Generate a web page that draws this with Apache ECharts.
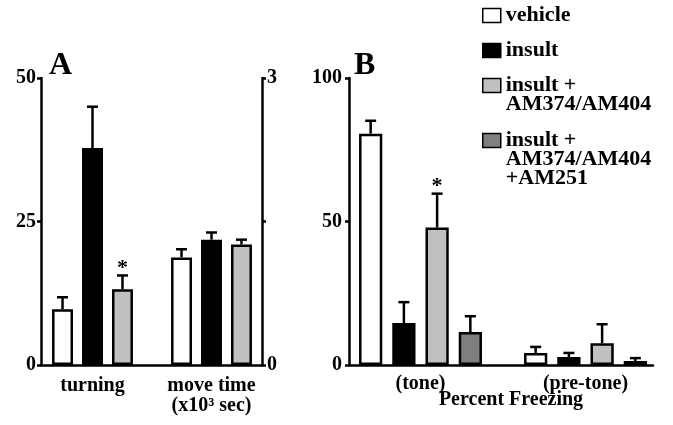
<!DOCTYPE html>
<html><head><meta charset="utf-8">
<script src="https://cdn.jsdelivr.net/npm/echarts@6/dist/echarts.min.js"></script>
<style>html,body{margin:0;padding:0;background:#fff}#c{width:673px;height:425px}</style>
</head><body><div id="c"></div>
<script>
// ---- data ----
const groupNames = ['vehicle', 'insult', 'insult + AM374/AM404', 'insult + AM374/AM404 + AM251'];
const legendLabels = ['vehicle', 'insult', 'insult +\nAM374/AM404', 'insult +\nAM374/AM404\n+AM251'];
const groupColors = ['#ffffff', '#000000', '#c0c0c0', '#7f7f7f'];

const categoriesA = ['turning', 'move time\n(x10³ sec)'];
const turningMean = [9.7, 37.8, 13.2];
const turningErr = [2.1, 7.2, 2.4];
const turningSig = [0, 0, 1];
const moveTimeMean = [1.125, 1.31, 1.26];
const moveTimeErr = [0.085, 0.075, 0.05];
const moveTimeSig = [0, 0, 0];

const categoriesB = ['(tone)', '(pre-tone)'];
const toneMean = [80.6, 14.6, 47.9, 11.5];
const toneErr = [4.5, 7.3, 11.8, 5.5];
const toneSig = [0, 0, 1, 0];
const preToneMean = [4.2, 2.8, 7.6, 1.4];
const preToneErr = [2.1, 1.4, 6.6, 1.0];
const preToneSig = [0, 0, 0, 0];

const axisTicksA = { min: 0, max: 50, interval: 25 };
const axisTicksARight = { min: 0, max: 3, interval: 1.5, hidden: [1.5] };
const axisTicksB = { min: 0, max: 100, interval: 50 };

// ---- style ----
const FONT = '"Liberation Serif", "Times New Roman", serif';
const LW = 2.5;
const catGapA = 0.32, barGapA = 0.43;
const catGapB = 0.255, barGapB = 0.43;

function barSeries(i, xi, yi, data, catGap, barGap) {
  return {
    type: 'bar', name: groupNames[i], xAxisIndex: xi, yAxisIndex: yi, data: data,
    barGap: (barGap * 100) + '%', barCategoryGap: (catGap * 100) + '%',
    itemStyle: { color: groupColors[i], borderColor: '#000', borderWidth: LW },
    silent: true, z: 2
  };
}

function errSeries(xi, yi, cat, means, errs, sigs, catGap, barGap) {
  const n = means.length;
  return {
    type: 'custom', xAxisIndex: xi, yAxisIndex: yi, z: 10, silent: true,
    encode: { x: 0, y: 2 },
    data: means.map((m, i) => [cat, i, m, errs[i], sigs[i]]),
    renderItem: function (params, api) {
      const c = api.value(0), i = api.value(1), m = api.value(2), e = api.value(3), s = api.value(4);
      const band = api.size([1, 0])[0];
      const avail = band * (1 - catGap);
      const bw = avail / (n + (n - 1) * barGap);
      const x = api.coord([c, 0])[0] - avail / 2 + i * bw * (1 + barGap) + bw / 2;
      const y0 = api.coord([c, m])[1];
      const y1 = api.coord([c, m + e])[1];
      const ch = [
        { type: 'line', shape: { x1: x, y1: y0, x2: x, y2: y1 }, style: { stroke: '#000', lineWidth: LW } },
        { type: 'line', shape: { x1: x - 5.5, y1: y1, x2: x + 5.5, y2: y1 }, style: { stroke: '#000', lineWidth: LW } }
      ];
      if (s) ch.push({ type: 'text', style: { text: '*', x: x, y: y1 - 7, align: 'center', verticalAlign: 'middle', font: 'bold 22px ' + FONT, fill: '#000' } });
      return { type: 'group', children: ch };
    }
  };
}

const labelStyle = { fontFamily: FONT, fontWeight: 'bold', fontSize: 20, color: '#000' };
const lineStyle = { color: '#000', width: LW };

function yAxisVisible(gi, pos, t, margin) {
  return {
    type: 'value', gridIndex: gi, position: pos, min: t.min, max: t.max, interval: t.interval,
    axisLine: { show: true, lineStyle: lineStyle },
    axisTick: { show: true, length: 4, lineStyle: lineStyle },
    splitLine: { show: false },
    axisLabel: Object.assign({ margin: margin, formatter: v => (t.hidden && t.hidden.indexOf(v) >= 0) ? '' : String(v) }, labelStyle)
  };
}
function yAxisHidden(gi, t) {
  return { type: 'value', gridIndex: gi, min: t.min, max: t.max, interval: t.interval, show: false, splitLine: { show: false } };
}

const iconTops = [7, 42, 77, 132];
const LH = 19;
const legends = legendLabels.map((lab, i) => {
  const n = lab.split('\n').length;
  const txt = '\n'.repeat(n - 1) + lab;   // blank lines keep the first line level with the swatch
  return {
    data: [groupNames[i]], left: 482, top: iconTops[i] + 7 - (2 * n - 1) * LH / 2,
    orient: 'vertical', padding: 0, itemWidth: 18, itemHeight: 14, itemGap: 0, selectedMode: false,
    icon: 'rect', formatter: () => txt,
    itemStyle: { borderColor: '#000', borderWidth: 1.5 },
    textStyle: { fontFamily: FONT, fontWeight: 'bold', fontSize: 22, color: '#000', lineHeight: LH }
  };
});

const option = {
  animation: false,
  backgroundColor: '#fff',
  title: [
    { text: 'A', left: 49, top: 50, padding: 0, textStyle: { fontFamily: FONT, fontWeight: 'bold', fontSize: 32, color: '#000' } },
    { text: 'B', left: 354, top: 50, padding: 0, textStyle: { fontFamily: FONT, fontWeight: 'bold', fontSize: 32, color: '#000' } },
    { text: 'Percent Freezing', left: 511, top: 390, textAlign: 'center', padding: 0, textStyle: labelStyle }
  ],
  legend: legends,
  grid: [
    { left: 41, right: 411, top: 78, bottom: 60 },   // 0: panel A axes
    { left: 33, right: 402, top: 78, bottom: 60 },   // 1: panel A turning bars
    { left: 33, right: 402, top: 78, bottom: 60 },   // 2: panel A move-time bars
    { left: 349, right: 20, top: 78, bottom: 60 },   // 3: panel B axes
    { left: 338, right: 5, top: 78, bottom: 60 }     // 4: panel B bars
  ],
  xAxis: [
    { type: 'category', gridIndex: 0, data: categoriesA, axisLine: { lineStyle: lineStyle }, axisTick: { show: false }, axisLabel: { show: false } },
    { type: 'category', gridIndex: 1, data: categoriesA, axisLine: { show: false }, axisTick: { show: false },
      axisLabel: Object.assign({ margin: 11, lineHeight: 20, interval: 0 }, labelStyle) },
    { type: 'category', gridIndex: 2, data: categoriesA, show: false },
    { type: 'category', gridIndex: 3, data: categoriesB, axisLine: { lineStyle: lineStyle }, axisTick: { show: false }, axisLabel: { show: false } },
    { type: 'category', gridIndex: 4, data: categoriesB, axisLine: { show: false }, axisTick: { show: false },
      axisLabel: Object.assign({ margin: 9, interval: 0 }, labelStyle) }
  ],
  yAxis: [
    yAxisVisible(0, 'left', axisTicksA, 5),
    yAxisVisible(0, 'right', axisTicksARight, 5),
    yAxisHidden(1, axisTicksA),
    yAxisHidden(2, axisTicksARight),
    yAxisVisible(3, 'left', axisTicksB, 7),
    yAxisHidden(4, axisTicksB)
  ],
  series: [
    ...turningMean.map((v, i) => barSeries(i, 1, 2, [v, '-'], catGapA, barGapA)),
    ...moveTimeMean.map((v, i) => barSeries(i, 2, 3, ['-', v], catGapA, barGapA)),
    ...toneMean.map((v, i) => barSeries(i, 4, 5, [v, preToneMean[i]], catGapB, barGapB)),
    errSeries(1, 2, 0, turningMean, turningErr, turningSig, catGapA, barGapA),
    errSeries(2, 3, 1, moveTimeMean, moveTimeErr, moveTimeSig, catGapA, barGapA),
    errSeries(4, 5, 0, toneMean, toneErr, toneSig, catGapB, barGapB),
    errSeries(4, 5, 1, preToneMean, preToneErr, preToneSig, catGapB, barGapB)
  ]
};

const chart = echarts.init(document.getElementById('c'), null, { renderer: 'canvas' });
chart.setOption(option);
</script>
</body></html>
